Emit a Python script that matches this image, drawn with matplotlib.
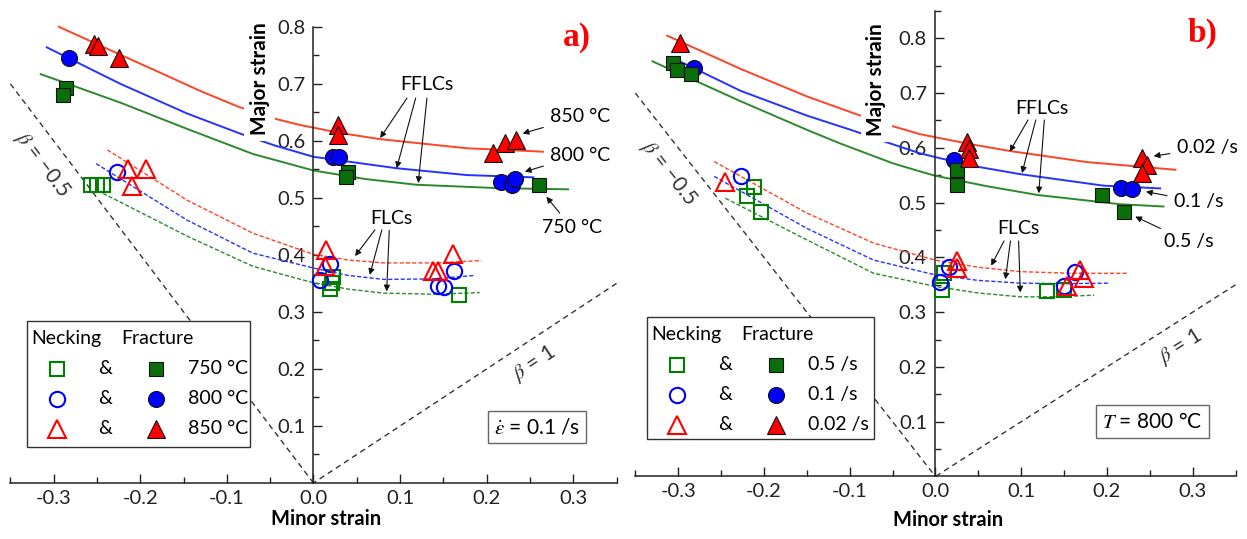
import numpy as np
import matplotlib
matplotlib.use("Agg")
import matplotlib.pyplot as plt
from matplotlib.patches import Rectangle
from matplotlib.transforms import offset_copy

plt.rcParams["font.family"] = ["Lato", "DejaVu Sans"]
plt.rcParams["mathtext.fontset"] = "stix"
plt.rcParams["axes.unicode_minus"] = False

# ---------------- panel a: strain rate 0.1 /s, three temperatures
labels_a = ["750 °C", "800 °C", "850 °C"]

fflc_750_a_x = [-0.315, -0.223, -0.146, -0.070, 0.000, 0.060, 0.119, 0.215, 0.294]
fflc_750_a_y = [0.717, 0.667, 0.621, 0.577, 0.548, 0.533, 0.523, 0.517, 0.515]
fflc_800_a_x = [-0.308, -0.223, -0.146, -0.087, -0.045, 0.000, 0.096, 0.177, 0.254]
fflc_800_a_y = [0.764, 0.700, 0.648, 0.614, 0.592, 0.572, 0.552, 0.540, 0.536]
fflc_850_a_x = [-0.294, -0.223, -0.185, -0.130, -0.087, -0.045, -0.016, 0.030, 0.077, 0.177, 0.265]
fflc_850_a_y = [0.800, 0.751, 0.725, 0.687, 0.660, 0.639, 0.628, 0.614, 0.603, 0.587, 0.581]

flc_750_a_x = [-0.243, -0.146, -0.070, 0.000, 0.040, 0.081, 0.140, 0.192]
flc_750_a_y = [0.508, 0.433, 0.380, 0.351, 0.340, 0.333, 0.331, 0.334]
flc_800_a_x = [-0.251, -0.146, -0.070, 0.000, 0.040, 0.081, 0.140, 0.186]
flc_800_a_y = [0.560, 0.461, 0.403, 0.377, 0.364, 0.357, 0.358, 0.364]
flc_850_a_x = [-0.238, -0.146, -0.070, 0.000, 0.040, 0.081, 0.140, 0.194]
flc_850_a_y = [0.584, 0.496, 0.438, 0.401, 0.391, 0.386, 0.386, 0.390]

neck_750_a_x = [-0.257, -0.250, -0.243, 0.023, 0.021, 0.019, 0.168]
neck_750_a_y = [0.523, 0.523, 0.523, 0.362, 0.351, 0.341, 0.330]
neck_800_a_x = [-0.227, 0.019, 0.008, 0.162, 0.144, 0.151]
neck_800_a_y = [0.546, 0.384, 0.356, 0.371, 0.346, 0.344]
neck_850_a_x = [-0.214, -0.193, -0.209, 0.015, 0.013, 0.138, 0.144, 0.161]
neck_850_a_y = [0.550, 0.550, 0.520, 0.408, 0.380, 0.371, 0.372, 0.402]

frac_750_a_x = [-0.286, -0.289, 0.040, 0.0375, 0.261]
frac_750_a_y = [0.692, 0.681, 0.546, 0.536, 0.523]
frac_800_a_x = [-0.282, 0.023, 0.030, 0.217, 0.229, 0.233]
frac_800_a_y = [0.745, 0.572, 0.571, 0.527, 0.523, 0.533]
frac_850_a_x = [-0.2535, -0.2485, -0.2246, 0.0287, 0.0287, 0.207, 0.221, 0.234]
frac_850_a_y = [0.770, 0.767, 0.745, 0.628, 0.611, 0.578, 0.596, 0.602]

# ---------------- panel b: T = 800 °C, three strain rates
labels_b = ["0.5 /s", "0.1 /s", "0.02 /s"]

fflc_05_b_x = [-0.330, -0.227, -0.150, -0.111, -0.050, -0.018, 0.000, 0.060, 0.119, 0.216, 0.266]
fflc_05_b_y = [0.758, 0.685, 0.633, 0.608, 0.572, 0.557, 0.549, 0.530, 0.514, 0.497, 0.493]
fflc_01_b_x = [-0.297, -0.227, -0.150, -0.095, -0.066, -0.018, 0.040, 0.099, 0.196, 0.262]
fflc_01_b_y = [0.757, 0.704, 0.659, 0.631, 0.615, 0.590, 0.568, 0.552, 0.531, 0.526]
fflc_002_b_x = [-0.313, -0.227, -0.150, -0.095, -0.053, -0.018, 0.040, 0.088, 0.177, 0.280]
fflc_002_b_y = [0.805, 0.744, 0.694, 0.663, 0.641, 0.625, 0.607, 0.594, 0.574, 0.560]

flc_05_b_x = [-0.245, -0.150, -0.072, 0.000, 0.050, 0.099, 0.140, 0.185]
flc_05_b_y = [0.508, 0.432, 0.371, 0.347, 0.335, 0.328, 0.328, 0.331]
flc_01_b_x = [-0.258, -0.150, -0.072, 0.000, 0.050, 0.099, 0.150, 0.202]
flc_01_b_y = [0.548, 0.453, 0.395, 0.368, 0.358, 0.353, 0.352, 0.353]
flc_002_b_x = [-0.258, -0.150, -0.072, 0.000, 0.050, 0.099, 0.160, 0.225]
flc_002_b_y = [0.575, 0.481, 0.426, 0.395, 0.382, 0.374, 0.371, 0.371]

neck_05_b_x = [-0.212, -0.220, -0.2035, 0.0105, 0.0078, 0.130, 0.150]
neck_05_b_y = [0.529, 0.512, 0.482, 0.371, 0.341, 0.339, 0.341]
neck_01_b_x = [-0.227, 0.0155, 0.0058, 0.163, 0.150]
neck_01_b_y = [0.548, 0.383, 0.356, 0.374, 0.347]
neck_002_b_x = [-0.245, 0.025, 0.025, 0.169, 0.173, 0.153]
neck_002_b_y = [0.537, 0.394, 0.380, 0.377, 0.362, 0.347]

frac_05_b_x = [-0.306, -0.301, -0.285, 0.0253, 0.0253, 0.194, 0.220]
frac_05_b_y = [0.755, 0.742, 0.735, 0.560, 0.532, 0.514, 0.483]
frac_01_b_x = [-0.282, 0.0214, 0.216, 0.229]
frac_01_b_y = [0.746, 0.578, 0.526, 0.525]
frac_002_b_x = [-0.298, 0.037, 0.039, 0.039, 0.241, 0.247, 0.241]
frac_002_b_y = [0.792, 0.611, 0.598, 0.581, 0.581, 0.569, 0.555]

beta_values = [-0.5, 1.0]
x_ticks = [-0.3, -0.2, -0.1, 0.0, 0.1, 0.2, 0.3]
y_ticks = [0.1, 0.2, 0.3, 0.4, 0.5, 0.6, 0.7, 0.8]

# styles: green, blue, red
line_colors = ["#2b8a2b", "#2434ff", "#ff4325"]
mark_colors = ["#008000", "#0000ff", "#ff0000"]
fill_colors = ["#0a6e0a", "#0000ff", "#ff0000"]
markers = ["s", "o", "^"]
mk_size = [10.5, 11.5, 13.5]


def setup_axes(ax, ytop, spine_top):
    ax.set_xlim(-0.35, 0.35)
    ax.set_ylim(0, ytop)
    for side in ["top", "right"]:
        ax.spines[side].set_visible(False)
    ax.spines["left"].set_position(("data", 0))
    ax.spines["bottom"].set_position(("data", 0))
    ax.spines["left"].set_bounds(0, spine_top)
    for side in ["left", "bottom"]:
        ax.spines[side].set_color("#222222")
        ax.spines[side].set_linewidth(1.1)
    ax.set_xticks(x_ticks)
    ax.set_xticklabels([f"{v:.1f}" for v in x_ticks])
    ax.set_xticks(np.arange(-0.35, 0.36, 0.1), minor=True)
    ax.set_yticks(y_ticks)
    ax.set_yticklabels([f"{v:.1f}" for v in y_ticks])
    ax.set_yticks(np.arange(0.05, spine_top + 0.01, 0.1), minor=True)
    ax.tick_params(which="both", direction="in", colors="#222222", labelcolor="#222222")
    ax.tick_params(which="major", length=6.5, width=1, labelsize=14.5)
    ax.tick_params(which="minor", length=4, width=1)
    ax.tick_params(axis="x", pad=5)
    ax.tick_params(axis="y", pad=6)
    ax.patch.set_visible(False)


def draw_beta(ax, label_pos):
    for beta, (lx, ly) in zip(beta_values, label_pos):
        end = -0.35 if beta < 0 else 0.35
        xs = np.array([end, 0.0])
        ax.plot(xs, xs / beta, ls=(0, (4, 3)), color="#333333", lw=1.0, zorder=1)
        p0 = ax.transData.transform((xs[0], xs[0] / beta))
        p1 = ax.transData.transform((0.0, 0.0))
        if beta < 0:
            ang = np.degrees(np.arctan2(p1[1] - p0[1], p1[0] - p0[0]))
            txt = "$\\beta$ = \u22120.5"
        else:
            ang = np.degrees(np.arctan2(p0[1] - p1[1], p0[0] - p1[0]))
            txt = "$\\beta$ = 1"
        ax.text(lx, ly, txt, rotation=ang, ha="center", va="center",
                fontsize=15, color="#333333", rotation_mode="anchor")


def draw_curves(ax, fflcs, flcs):
    for (xs, ys), c in zip(fflcs, line_colors):
        ax.plot(xs, ys, color=c, lw=1.4, zorder=2)
    for (xs, ys), c in zip(flcs, line_colors):
        ax.plot(xs, ys, color=c, lw=1.0, ls=(0, (3, 1.5)), zorder=2)


def draw_points(ax, necks, fracs):
    for (xs, ys), c, m, s in zip(necks, mark_colors, markers, mk_size):
        ax.plot(xs, ys, ls="none", marker=m, ms=s - 0.5, mfc="none", mec=c, mew=1.5, zorder=3)
    for i in [1, 0, 2]:
        xs, ys = fracs[i]
        ax.plot(xs, ys, ls="none", marker=markers[i], ms=mk_size[i], mfc=fill_colors[i],
                mec="#111111", mew=0.8, zorder=3)


def draw_key(ax, left, top, width, height, labels):
    fig = ax.figure
    ax.add_patch(Rectangle((left, top - height), width, height, transform=ax.transAxes,
                           fc="white", ec="#333333", lw=1.0, zorder=6))

    def at(dx, dy):
        return offset_copy(ax.transAxes, fig=fig, x=dx, y=-dy, units="dots")

    ax.text(left, top, "Necking", transform=at(4, 18), ha="left", va="center", fontsize=14, zorder=7)
    ax.text(left, top, "Fracture", transform=at(94, 18), ha="left", va="center", fontsize=14, zorder=7)
    for i, lab in enumerate(labels):
        dy = 48 + 30 * i
        ax.plot([left], [top], transform=at(30, dy), marker=markers[i], ms=mk_size[i] - 0.5,
                mfc="none", mec=mark_colors[i], mew=1.5, zorder=7, clip_on=False)
        ax.text(left, top, "&", transform=at(78, dy), ha="center", va="center", fontsize=14, zorder=7)
        ax.plot([left], [top], transform=at(129, dy), marker=markers[i], ms=mk_size[i],
                mfc=fill_colors[i], mec="#111111", mew=0.8, zorder=7, clip_on=False)
        ax.text(left, top, lab, transform=at(161, dy), ha="left", va="center", fontsize=14, zorder=7)


def arrow(ax, tail, head):
    ax.annotate("", xy=head, xytext=tail,
                arrowprops=dict(arrowstyle="-|>", color="#111111", lw=0.8,
                                shrinkA=0, shrinkB=0, mutation_scale=9))


def label_arrow(ax, text, text_pos, head):
    ax.annotate(text, xy=head, xytext=text_pos, ha="center", va="center", fontsize=14,
                arrowprops=dict(arrowstyle="-|>", color="#111111", lw=0.8,
                                shrinkA=3, shrinkB=0, mutation_scale=9))


fig = plt.figure(figsize=(12.47, 5.39), dpi=100)
ax_a = fig.add_axes([0.00834, 0.1039, 0.4861, 0.8961])
ax_b = fig.add_axes([0.5095, 0.1160, 0.4813, 0.8840])
setup_axes(ax_a, 0.847, 0.8)
setup_axes(ax_b, 0.870, 0.85)

# ---- panel a
draw_beta(ax_a, [(-0.313, 0.558), (0.255, 0.210)])
draw_curves(ax_a,
            [(fflc_750_a_x, fflc_750_a_y), (fflc_800_a_x, fflc_800_a_y), (fflc_850_a_x, fflc_850_a_y)],
            [(flc_750_a_x, flc_750_a_y), (flc_800_a_x, flc_800_a_y), (flc_850_a_x, flc_850_a_y)])
draw_points(ax_a,
            [(neck_750_a_x, neck_750_a_y), (neck_800_a_x, neck_800_a_y), (neck_850_a_x, neck_850_a_y)],
            [(frac_750_a_x, frac_750_a_y), (frac_800_a_x, frac_800_a_y), (frac_850_a_x, frac_850_a_y)])
draw_key(ax_a, 0.0274, 0.336, 0.3672, 0.2608, labels_a)

ax_a.text(0.131, 0.698, "FFLCs", ha="center", va="center", fontsize=14)
for tail, head in zip([(0.108, 0.675), (0.118, 0.675), (0.131, 0.675)],
                      [(0.077, 0.605), (0.096, 0.552), (0.121, 0.526)]):
    arrow(ax_a, tail, head)
ax_a.text(0.090, 0.464, "FLCs", ha="center", va="center", fontsize=14)
for tail, head in zip([(0.071, 0.444), (0.079, 0.444), (0.0875, 0.443)],
                      [(0.048, 0.398), (0.065, 0.365), (0.0845, 0.336)]):
    arrow(ax_a, tail, head)
label_arrow(ax_a, labels_a[2], (0.308, 0.642), (0.2415, 0.613))
label_arrow(ax_a, labels_a[1], (0.308, 0.575), (0.244, 0.546))
label_arrow(ax_a, labels_a[0], (0.298, 0.448), (0.269, 0.502))

ax_a.text(-0.062, 0.709, "Major strain", rotation=90, ha="center", va="center", fontsize=15,
          fontweight="bold", bbox=dict(fc="white", ec="none", pad=4), zorder=4)
ax_a.text(0.015, -0.063, "Minor strain", ha="center", va="center", fontsize=14.5,
          fontweight="bold", clip_on=False)
ax_a.text(0.258, 0.098, "$\\dot{\\varepsilon}$ = 0.1 /s", ha="center", va="center", fontsize=15,
          bbox=dict(boxstyle="square,pad=0.3", fc="white", ec="#666666", lw=1))
ax_a.text(0.304, 0.781, "a)", ha="center", va="center", fontsize=24, fontweight="bold",
          color="#ff0000", family=["Liberation Serif", "DejaVu Serif"])

# ---- panel b
draw_beta(ax_b, [(-0.311, 0.554), (0.286, 0.237)])
draw_curves(ax_b,
            [(fflc_05_b_x, fflc_05_b_y), (fflc_01_b_x, fflc_01_b_y), (fflc_002_b_x, fflc_002_b_y)],
            [(flc_05_b_x, flc_05_b_y), (flc_01_b_x, flc_01_b_y), (flc_002_b_x, flc_002_b_y)])
draw_points(ax_b,
            [(neck_05_b_x, neck_05_b_y), (neck_01_b_x, neck_01_b_y), (neck_002_b_x, neck_002_b_y)],
            [(frac_05_b_x, frac_05_b_y), (frac_01_b_x, frac_01_b_y), (frac_002_b_x, frac_002_b_y)])
draw_key(ax_b, 0.0198, 0.3354, 0.3777, 0.2567, labels_b)

ax_b.text(0.124, 0.672, "FFLCs", ha="center", va="center", fontsize=14)
for tail, head in zip([(0.108, 0.651), (0.117, 0.651), (0.127, 0.651)],
                      [(0.0866, 0.593), (0.101, 0.554), (0.1205, 0.517)]):
    arrow(ax_b, tail, head)
ax_b.text(0.097, 0.453, "FLCs", ha="center", va="center", fontsize=14)
for tail, head in zip([(0.080, 0.430), (0.0875, 0.430), (0.097, 0.430)],
                      [(0.065, 0.385), (0.0816, 0.360), (0.099, 0.336)]):
    arrow(ax_b, tail, head)
label_arrow(ax_b, labels_b[2], (0.317, 0.600), (0.2545, 0.585))
label_arrow(ax_b, labels_b[1], (0.307, 0.502), (0.2455, 0.520))
label_arrow(ax_b, labels_b[0], (0.295, 0.429), (0.233, 0.4745))

ax_b.text(-0.069, 0.724, "Major strain", rotation=90, ha="center", va="center", fontsize=15,
          fontweight="bold", bbox=dict(fc="white", ec="none", pad=4), zorder=4)
ax_b.text(0.015, -0.079, "Minor strain", ha="center", va="center", fontsize=14.5,
          fontweight="bold", clip_on=False)
ax_b.text(0.253, 0.100, "$T$ = 800 °C", ha="center", va="center", fontsize=15,
          bbox=dict(boxstyle="square,pad=0.3", fc="white", ec="#666666", lw=1))
ax_b.text(0.311, 0.809, "b)", ha="center", va="center", fontsize=24, fontweight="bold",
          color="#ff0000", family=["Liberation Serif", "DejaVu Serif"])

fig.savefig("out.png", dpi=100)
plt.close(fig)
